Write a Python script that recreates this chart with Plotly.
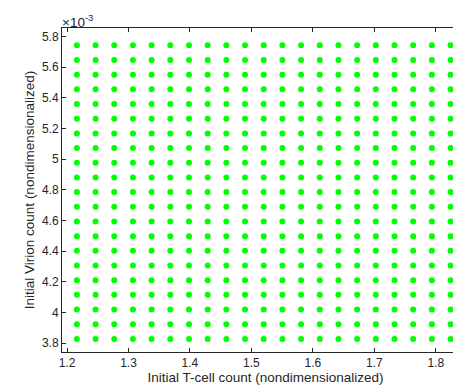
import plotly.graph_objects as go

# Grid of initial conditions (T-cell count, virion count)
tcell_values = [1.216, 1.2464, 1.2768, 1.3072, 1.3376, 1.368, 1.3984, 1.4288, 1.4592,
                1.4896, 1.52, 1.5504, 1.5808, 1.6112, 1.6416, 1.672, 1.7024, 1.7328,
                1.7632, 1.7936, 1.824]
virion_values = [3.828e-3, 3.9237e-3, 4.0194e-3, 4.1151e-3, 4.2108e-3, 4.3065e-3,
                 4.4022e-3, 4.4979e-3, 4.5936e-3, 4.6893e-3, 4.785e-3, 4.8807e-3,
                 4.9764e-3, 5.0721e-3, 5.1678e-3, 5.2635e-3, 5.3592e-3, 5.4549e-3,
                 5.5506e-3, 5.6463e-3, 5.742e-3]

x_ticks = [1.2, 1.3, 1.4, 1.5, 1.6, 1.7, 1.8]
x_tick_labels = ["1.2", "1.3", "1.4", "1.5", "1.6", "1.7", "1.8"]
y_ticks = [3.8e-3, 4.0e-3, 4.2e-3, 4.4e-3, 4.6e-3, 4.8e-3, 5.0e-3, 5.2e-3, 5.4e-3, 5.6e-3, 5.8e-3]
y_tick_labels = ["3.8", "4", "4.2", "4.4", "4.6", "4.8", "5", "5.2", "5.4", "5.6", "5.8"]

xs = [x for y in virion_values for x in tcell_values]
ys = [y for y in virion_values for x in tcell_values]

axis_color = "#262626"
font_family = "Liberation Sans, Arial, sans-serif"

fig = go.Figure()
fig.add_trace(go.Scatter(
    x=xs, y=ys, mode="markers",
    marker=dict(color="#00ff00", size=6, line=dict(width=0)),
    showlegend=False,
))

common = dict(
    showline=True, linecolor=axis_color, linewidth=1, mirror="ticks",
    ticks="inside", ticklen=4, tickcolor=axis_color, tickwidth=1,
    showgrid=False, zeroline=False,
    tickfont=dict(family=font_family, size=12, color=axis_color),
)

fig.update_layout(
    width=461, height=390,
    margin=dict(l=54, r=0, t=20, b=46),
    paper_bgcolor="white", plot_bgcolor="white",
    font=dict(family=font_family, color=axis_color),
    xaxis=dict(
        range=[1.1918, 1.854], tickvals=x_ticks, ticktext=x_tick_labels,
        title=dict(text="Initial T-cell count (nondimensionalized)",
                   font=dict(family=font_family, size=13.5, color=axis_color), standoff=1),
        **common,
    ),
    yaxis=dict(
        range=[3.7426e-3, 5.855e-3], tickvals=y_ticks, ticktext=y_tick_labels,
        title=dict(text="Initial Virion count (nondimensionalized)",
                   font=dict(family=font_family, size=13.5, color=axis_color), standoff=4),
        **common,
    ),
    annotations=[dict(
        text="×10<sup>-3</sup>", xref="paper", yref="paper", x=0.0, y=1.0,
        xanchor="left", yanchor="bottom", showarrow=False, yshift=-4, xshift=-2,
        font=dict(family=font_family, size=13.5, color=axis_color),
    )],
)

fig.write_html("out.html")
